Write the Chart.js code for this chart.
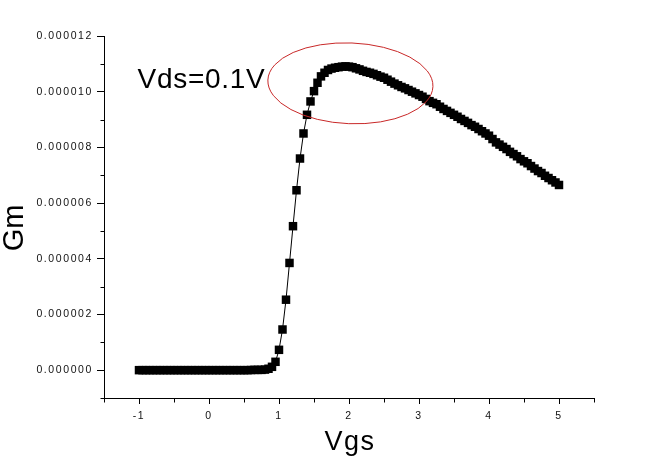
<!DOCTYPE html>
<html>
<head>
<meta charset="utf-8">
<script src="https://cdn.jsdelivr.net/npm/chart.js@4.4.1/dist/chart.umd.min.js"></script>
<style>
html,body{margin:0;padding:0;background:#fff;}
canvas{display:block;}
</style>
</head>
<body>
<canvas id="c" width="650" height="471"></canvas>
<script>
const vgs = [-1.00,-0.95,-0.90,-0.85,-0.80,-0.75,-0.70,-0.65,-0.60,-0.55,-0.50,-0.45,-0.40,-0.35,-0.30,-0.25,-0.20,-0.15,-0.10,-0.05,
0.00,0.05,0.10,0.15,0.20,0.25,0.30,0.35,0.40,0.45,0.50,0.55,0.60,0.65,0.70,0.75,0.80,0.85,0.90,0.95,
1.00,1.05,1.10,1.15,1.20,1.25,1.30,1.35,1.40,1.45,1.50,1.55,1.60,1.65,1.70,1.75,1.80,1.85,1.90,1.95,
2.00,2.05,2.10,2.15,2.20,2.25,2.30,2.35,2.40,2.45,2.50,2.55,2.60,2.65,2.70,2.75,2.80,2.85,2.90,2.95,
3.00,3.05,3.10,3.15,3.20,3.25,3.30,3.35,3.40,3.45,3.50,3.55,3.60,3.65,3.70,3.75,3.80,3.85,3.90,3.95,
4.00,4.05,4.10,4.15,4.20,4.25,4.30,4.35,4.40,4.45,4.50,4.55,4.60,4.65,4.70,4.75,4.80,4.85,4.90,4.95,5.00];

const gm = [0,0,0,0,0,0,0,0,0,0,0,0,0,0,0,0,0,0,0,0,
0,0,0,0,0,0,0,0,0,0,0,0,0.005e-6,0.01e-6,0.01e-6,0.01e-6,0.02e-6,0.05e-6,0.12e-6,0.30e-6,
0.73e-6,1.46e-6,2.53e-6,3.85e-6,5.17e-6,6.46e-6,7.60e-6,8.50e-6,9.17e-6,9.65e-6,10.02e-6,10.32e-6,10.55e-6,10.68e-6,10.78e-6,10.83e-6,10.86e-6,10.88e-6,10.90e-6,10.91e-6,
10.90e-6,10.88e-6,10.84e-6,10.80e-6,10.75e-6,10.71e-6,10.68e-6,10.64e-6,10.59e-6,10.54e-6,10.50e-6,10.43e-6,10.36e-6,10.29e-6,10.23e-6,10.17e-6,10.12e-6,10.06e-6,10.00e-6,9.94e-6,
9.88e-6,9.82e-6,9.74e-6,9.66e-6,9.60e-6,9.55e-6,9.46e-6,9.38e-6,9.31e-6,9.24e-6,9.17e-6,9.10e-6,9.02e-6,8.95e-6,8.88e-6,8.80e-6,8.74e-6,8.66e-6,8.58e-6,8.50e-6,
8.42e-6,8.30e-6,8.18e-6,8.10e-6,8.02e-6,7.94e-6,7.84e-6,7.76e-6,7.68e-6,7.58e-6,7.50e-6,7.43e-6,7.33e-6,7.24e-6,7.15e-6,7.08e-6,6.98e-6,6.90e-6,6.82e-6,6.74e-6,6.65e-6];

const xTickValues = [-1,0,1,2,3,4,5];
const xTickLabels = ['-1','0','1','2','3','4','5'];
const xMinorTicks = [-1.5,-0.5,0.5,1.5,2.5,3.5,4.5,5.5];
const yTickValues = [0,2e-6,4e-6,6e-6,8e-6,10e-6,12e-6];
const yTickLabels = ['0.000000','0.000002','0.000004','0.000006','0.000008','0.000010','0.000012'];
const yMinorTicks = [-1e-6,1e-6,3e-6,5e-6,7e-6,9e-6,11e-6];

const xTitle = 'Vgs';
const yTitle = 'Gm';
const noteText = 'Vds=0.1V';
const notePos = {x: -1.02, y: 10.14e-6};
const ring = {cx: 2.02, cy: 10.3e-6, rx: 1.18, ry: 1.45e-6};

const FONT = '"Liberation Sans", Arial, sans-serif';

const decor = {
  id: 'decor',
  afterDatasetsDraw(chart) {
    chart.ctx.letterSpacing = '1.6px';
  },
  afterDraw(chart) {
    const ctx = chart.ctx;
    const xs = chart.scales.x, ys = chart.scales.y;
    ctx.save();
    ctx.letterSpacing = '0px';
    // minor ticks
    ctx.strokeStyle = '#000';
    ctx.lineWidth = 1;
    ctx.beginPath();
    const by = Math.round(ys.bottom) + 0.5;
    xMinorTicks.forEach(v => {
      const px = Math.round(xs.getPixelForValue(v)) + 0.5;
      ctx.moveTo(px, by); ctx.lineTo(px, by + 4);
    });
    const lx = Math.round(xs.left) + 0.5;
    yMinorTicks.forEach(v => {
      const py = Math.round(ys.getPixelForValue(v)) + 0.5;
      ctx.moveTo(lx, py); ctx.lineTo(lx - 4, py);
    });
    ctx.stroke();

    // red hand-drawn ring
    ctx.beginPath();
    ctx.strokeStyle = 'rgb(200,40,40)';
    ctx.lineWidth = 1;
    const cx = xs.getPixelForValue(ring.cx), cy = ys.getPixelForValue(ring.cy);
    const rx = xs.getPixelForValue(ring.cx + ring.rx) - cx;
    const ry = cy - ys.getPixelForValue(ring.cy + ring.ry);
    ctx.ellipse(cx, cy, rx, ry, 0.04, 0, Math.PI * 2);
    ctx.stroke();

    // annotation
    ctx.fillStyle = '#000';
    ctx.font = '28px ' + FONT;
    ctx.letterSpacing = '0.7px';
    ctx.textAlign = 'left';
    ctx.textBaseline = 'alphabetic';
    ctx.fillText(noteText, xs.getPixelForValue(notePos.x), ys.getPixelForValue(notePos.y));

    // axis titles
    ctx.font = '27px ' + FONT;
    ctx.letterSpacing = '1.5px';
    ctx.textAlign = 'center';
    ctx.fillText(xTitle, (xs.left + xs.right) / 2 + 1, 450);

    ctx.font = '29px ' + FONT;
    ctx.letterSpacing = '0px';
    ctx.translate(23, 228);
    ctx.rotate(-Math.PI / 2);
    ctx.fillText(yTitle, 0, 0);
    ctx.restore();
    ctx.letterSpacing = '0px';
  }
};

const points = vgs.map((x, i) => ({x: x, y: gm[i]}));

new Chart(document.getElementById('c'), {
  type: 'line',
  data: {
    datasets: [{
      data: points,
      borderColor: '#000',
      borderWidth: 1,
      backgroundColor: '#000',
      pointStyle: 'rect',
      pointRadius: 6,
      pointBorderWidth: 0,
      pointBackgroundColor: '#000',
      tension: 0,
      clip: false
    }]
  },
  options: {
    responsive: false,
    devicePixelRatio: 1,
    animation: false,
    events: [],
    layout: {padding: {top: 36, right: 56, left: 0, bottom: 0}},
    plugins: {legend: {display: false}, tooltip: {enabled: false}},
    scales: {
      x: {
        type: 'linear',
        min: -1.5, max: 5.5,
        afterFit(s) { s.height = 73; },
        afterBuildTicks(s) { s.ticks = xTickValues.map(v => ({value: v})); },
        grid: {display: true, drawOnChartArea: false, drawTicks: true, tickLength: 6, color: '#000', lineWidth: 1},
        border: {display: true, color: '#000', width: 1},
        ticks: {
          z: 1,
          padding: 6,
          color: '#111',
          font: {family: FONT, size: 10.5},
          maxRotation: 0,
          autoSkip: false,
          callback: (v, i) => xTickLabels[i]
        }
      },
      y: {
        type: 'linear',
        min: -1e-6, max: 12e-6,
        afterFit(s) { s.width = 104; },
        afterBuildTicks(s) { s.ticks = yTickValues.map(v => ({value: v})); },
        grid: {display: true, drawOnChartArea: false, drawTicks: true, tickLength: 7, color: '#000', lineWidth: 1},
        border: {display: true, color: '#000', width: 1},
        ticks: {
          z: 1,
          padding: 4,
          color: '#111',
          font: {family: FONT, size: 10.5},
          autoSkip: false,
          callback: (v, i) => yTickLabels[i]
        }
      }
    }
  },
  plugins: [decor]
});
</script>
</body>
</html>
